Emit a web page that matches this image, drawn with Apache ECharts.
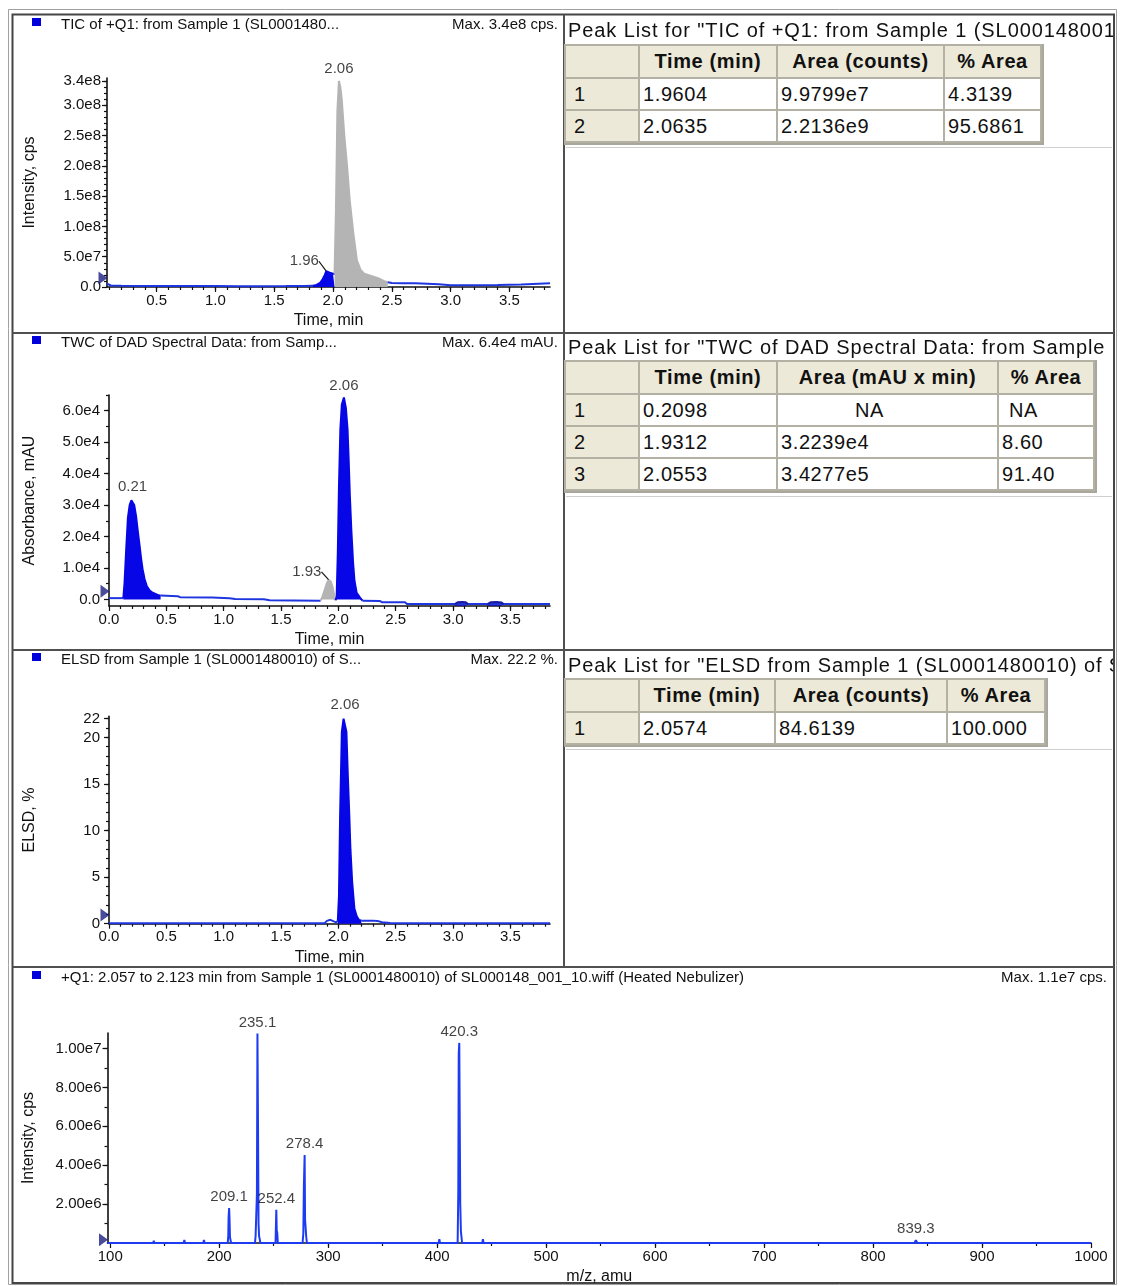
<!DOCTYPE html>
<html>
<head>
<meta charset="utf-8">
<script src="https://cdn.jsdelivr.net/npm/echarts/dist/echarts.min.js"></script>
<style>
  html, body { margin:0; padding:0; background:#fff; }
  #chart { position:absolute; left:0; top:0; width:1121px; height:1286px; }
  .ptitle { position:absolute; left:568px; width:545px; height:24px; line-height:24px; overflow:hidden; white-space:nowrap;
            font-family:'Liberation Sans', Arial, sans-serif; font-size:20px; letter-spacing:0.9px; color:#111; z-index:3; }
  table.pk { position:absolute; left:564px; border-collapse:separate; border-spacing:2px; background:#b3b0a4;
             font-family:'Liberation Sans', Arial, sans-serif; font-size:20px; letter-spacing:0.6px; color:#111; z-index:3;
             border-right:2px solid #a9a69b; border-bottom:2px solid #a9a69b; }
  table.pk th { background:#ece9d8; font-weight:bold; height:31px; padding:0; text-align:center; box-sizing:border-box; }
  table.pk td { background:#fff; height:30px; padding:0 0 0 3px; text-align:left; box-sizing:border-box; white-space:pre; }
  table.pk td.idx { background:#ece9d8; padding-left:8px; }
  .hl { position:absolute; background:#cfcfcf; z-index:2; }
</style>
</head>
<body>
<div id="chart"></div>
<div id="tables"></div>
<script>
// ---------------- DATA ----------------
// Panel 1: TIC of +Q1 (time min, intensity cps)
const ticTraceA  = [[0.078,5.5e6],[0.09,4.5e6],[0.11,2.5e6],[0.2,2.0e6],[0.4,1.8e6],[0.6,1.6e6],[0.8,1.5e6],[1.0,1.5e6],[1.2,1.4e6],[1.4,1.4e6],[1.6,1.5e6],[1.75,1.6e6],[1.83,2.0e6]];
const ticPeak196 = [[1.83,2.0e6],[1.86,3.5e6],[1.89,7e6],[1.91,1.2e7],[1.93,2.0e7],[1.943,2.6e7],[1.96,2.5e7],[1.98,2.3e7],[2.0,2.2e7],[2.013,2.2e7]];
const ticPeak206 = [[2.013,2.2e7],[2.025,1.3e8],[2.037,2.9e8],[2.05,3.4e8],[2.062,3.3e8],[2.074,3.1e8],[2.096,2.5e8],[2.12,1.98e8],[2.142,1.43e8],[2.173,8.8e7],[2.203,4.4e7],[2.235,2.8e7],[2.265,2.2e7],[2.33,1.8e7],[2.388,1.4e7],[2.43,1.0e7],[2.465,8e6]];
const ticTraceB  = [[2.465,8e6],[2.5,6.6e6],[2.6,6.2e6],[2.7,6.0e6],[2.8,5.5e6],[2.9,4.5e6],[3.0,3.0e6],[3.2,3.0e6],[3.4,3.2e6],[3.6,4.0e6],[3.7,5.0e6],[3.845,6.0e6]];
const ticLabels  = [[2.05,3.4e8,'2.06']];
const ticLeaderLabels = [[1.943,2.6e7,'1.96']];
const ticXTicks = [0.5,1.0,1.5,2.0,2.5,3.0,3.5];
const ticXText  = ['0.5','1.0','1.5','2.0','2.5','3.0','3.5'];
const ticYTicks = [0,5e7,1e8,1.5e8,2e8,2.5e8,3e8,3.4e8];
const ticYText  = ['0.0','5.0e7','1.0e8','1.5e8','2.0e8','2.5e8','3.0e8','3.4e8'];

// Panel 2: TWC of DAD (time min, absorbance mAU)
const dadTraceA  = [[0,400],[0.125,400]];
const dadPeak021 = [[0.125,400],[0.135,5000],[0.15,1.6e4],[0.165,2.6e4],[0.18,3.0e4],[0.195,3.15e4],[0.205,3.2e4],[0.22,3.0e4],[0.236,2.65e4],[0.25,2.2e4],[0.267,1.7e4],[0.28,1.3e4],[0.293,9600],[0.31,6500],[0.33,4200],[0.355,2800],[0.38,2100],[0.425,1400],[0.45,1200]];
const dadTraceB  = [[0.45,1200],[0.6,1000],[0.62,700],[0.9,600],[1.05,400],[1.1,150],[1.35,50],[1.4,-300],[1.6,-350],[1.845,-400]];
const dadPeak193 = [[1.845,-400],[1.86,800],[1.88,3000],[1.9,5200],[1.917,6200],[1.935,5600],[1.95,3800],[1.965,1000],[1.976,-300]];
const dadPeak206 = [[1.976,-300],[1.985,1000],[1.995,1.5e4],[2.005,3.6e4],[2.017,5.4e4],[2.03,6.2e4],[2.048,6.42e4],[2.065,6.1e4],[2.08,5.4e4],[2.09,4.4e4],[2.1,3.3e4],[2.113,2.2e4],[2.128,1.17e4],[2.14,6000],[2.159,2100],[2.19,500],[2.21,-400]];
const dadTraceC  = [[2.21,-400],[2.36,-500],[2.38,-900],[2.58,-900],[2.6,-1500],[3.845,-1500]];
const dadBlipA   = [[3.016,-1500],[3.04,-900],[3.08,-800],[3.11,-900],[3.13,-1500]];
const dadBlipB   = [[3.30,-1500],[3.33,-900],[3.38,-850],[3.42,-950],[3.44,-1500]];
const dadLabels  = [[0.205,3.2e4,'0.21'],[2.048,6.42e4,'2.06']];
const dadLeaderLabels = [[1.917,6200,'1.93']];
const dadXTicks = [0,0.5,1.0,1.5,2.0,2.5,3.0,3.5];
const dadXText  = ['0.0','0.5','1.0','1.5','2.0','2.5','3.0','3.5'];
const dadYTicks = [0,1e4,2e4,3e4,4e4,5e4,6e4];
const dadYText  = ['0.0','1.0e4','2.0e4','3.0e4','4.0e4','5.0e4','6.0e4'];

// Panel 3: ELSD (time min, %)
const elsdTraceA  = [[0,0.05],[1.0,0.05],[1.88,0.06],[1.9,0.3],[1.93,0.42],[1.96,0.25],[1.98,0.15],[1.995,0.3]];
const elsdPeak206 = [[1.995,0.3],[2.005,3],[2.015,11.7],[2.03,20.6],[2.045,22.0],[2.058,22.2],[2.07,20.6],[2.082,16],[2.095,11.7],[2.105,8],[2.12,4.5],[2.14,1.6],[2.16,0.8],[2.18,0.4],[2.2,0.32]];
const elsdTraceB  = [[2.2,0.32],[2.3,0.33],[2.34,0.3],[2.38,0.15],[2.45,0.08],[2.5,0.05],[3.845,0.05]];
const elsdLabels  = [[2.058,22.2,'2.06']];
const elsdXTicks = dadXTicks, elsdXText = dadXText;
const elsdYTicks = [0,5,10,15,20,22];
const elsdYText  = ['0','5','10','15','20','22'];

// Panel 4: +Q1 mass spectrum (m/z amu, intensity cps)
const msProfile = [[97.5,0],
  [139.4,0],[140,1.2e5],[140.6,0],
  [167.4,0],[168,1.5e5],[168.6,0],
  [185.4,0],[186,1.5e5],[186.6,0],
  [195.4,0],[196,0.8e5],[196.6,0],
  [207.8,0],[208.3,3e5],[208.6,1.3e6],[209.1,1.8e6],[209.5,1.2e6],[209.9,3e5],[210.4,2.5e5],[210.9,0],
  [232.8,0],[233.4,3.5e5],[234.0,4e5],[234.6,2.5e6],[235.1,1.077e7],[235.6,6.24e6],[236.1,1.0e6],[236.6,3.5e5],[237.2,2e5],[237.8,0],
  [251.7,0],[252.4,1.71e6],[252.8,6.5e5],[253.3,5e5],[253.8,0],
  [276.5,0],[277.2,5e5],[277.7,2.9e6],[278.4,4.53e6],[278.8,1.2e6],[279.3,1.1e6],[279.9,3e5],[280.5,0],
  [291.5,0],[292,1e5],[292.5,0],
  [401.4,0],[402,2e5],[402.6,0],
  [418.8,0],[419.4,2.58e6],[419.8,9.74e6],[420.3,1.029e7],[420.7,6.5e6],[421.2,2.0e6],[421.8,6e5],[422.3,5e5],[422.9,0],
  [436.4,0],[437,1e5],[437.6,0],
  [441.4,0],[442,2e5],[442.6,0],
  [838.0,0],[839.3,1.5e5],[840.6,0],
  [1000,0]];
const msLabels = [[209.1,1.8e6,'209.1'],[235.1,1.077e7,'235.1'],[252.4,1.71e6,'252.4'],[278.4,4.53e6,'278.4'],[420.3,1.029e7,'420.3'],[839.3,1.5e5,'839.3']];
const msXTicks = [100,200,300,400,500,600,700,800,900,1000];
const msXText  = ['100','200','300','400','500','600','700','800','900','1000'];
const msYTicks = [2e6,4e6,6e6,8e6,1e7];
const msYText  = ['2.00e6','4.00e6','6.00e6','8.00e6','1.00e7'];

// Panel titles
const panelTitles = [
  'TIC of +Q1: from Sample 1 (SL0001480...',
  'TWC of DAD Spectral Data: from Samp...',
  'ELSD from Sample 1 (SL0001480010) of S...',
  '+Q1: 2.057 to 2.123 min from Sample 1 (SL0001480010) of SL000148_001_10.wiff (Heated Nebulizer)'
];
const panelMax = ['Max. 3.4e8 cps.','Max. 6.4e4 mAU.','Max. 22.2 %.','Max. 1.1e7 cps.'];

// Peak tables
const tableTitles = [
  'Peak List for "TIC of +Q1: from Sample 1 (SL0001480010) of SL000148_001_10.wiff"',
  'Peak List for "TWC of DAD Spectral Data: from Sample 1 (SL0001480010)"',
  'Peak List for "ELSD from Sample 1 (SL0001480010) of SL000148_001_10.wiff"'
];
const tableHeaders = [
  ['', 'Time (min)', 'Area (counts)', '% Area'],
  ['', 'Time (min)', 'Area (mAU x min)', '% Area'],
  ['', 'Time (min)', 'Area (counts)', '% Area']
];
const tableRows = [
  [['1','1.9604','9.9799e7','4.3139'],['2','2.0635','2.2136e9','95.6861']],
  [['1','0.2098','NA','NA'],['2','1.9312','3.2239e4','8.60'],['3','2.0553','3.4277e5','91.40']],
  [['1','2.0574','84.6139','100.000']]
];

// ---------------- LAYOUT / STYLE ----------------
const FONT = "'Liberation Sans', Arial, sans-serif";
const BLUE_FILL = '#0606e6', BLUE_LINE = '#1e36e0', GREY_FILL = '#b4b4b4', INK = '#111';

const tableLayout = [
  { titleTop: 18, top: 44, widths: [72,136,165,95] },
  { titleTop: 335, top: 360, widths: [72,136,219,94] },
  { titleTop: 653, top: 678, widths: [72,134,170,96] }
];
const naPad = { 2: 77, 3: 10 };

function buildTables() {
  const host = document.getElementById('tables');
  tableLayout.forEach((L, k) => {
    const t = document.createElement('div');
    t.className = 'ptitle'; t.style.top = L.titleTop + 'px'; t.textContent = tableTitles[k];
    host.appendChild(t);
    const tb = document.createElement('table');
    tb.className = 'pk'; tb.style.top = L.top + 'px';
    let h = '<tr>' + tableHeaders[k].map((s, i) => `<th style="width:${L.widths[i]}px;min-width:${L.widths[i]}px">${s}</th>`).join('') + '</tr>';
    tableRows[k].forEach(r => {
      h += '<tr>' + r.map((s, i) => {
        if (i === 0) return `<td class="idx">${s}</td>`;
        const pad = (s === 'NA' && naPad[i] != null) ? `style="padding-left:${naPad[i]}px"` : '';
        return `<td ${pad}>${s}</td>`;
      }).join('') + '</tr>';
    });
    tb.innerHTML = h;
    host.appendChild(tb);
  });
  [[147],[496],[749]].forEach(([y]) => {
    const d = document.createElement('div'); d.className = 'hl';
    d.style.left = '566px'; d.style.top = y + 'px'; d.style.width = '546px'; d.style.height = '1px';
    host.appendChild(d);
  });
}
buildTables();

const grids = [
  { left: 107, top: 78, width: 443, height: 209 },
  { left: 109, top: 395, width: 441, height: 211 },
  { left: 109, top: 716.4, width: 441, height: 207.3 },
  { left: 107.5, top: 1033, width: 983.5, height: 210.3 }
];
const xRanges = [[0.078,3.845],[0,3.845],[0,3.845],[97.5,1000]];
const yRanges = [[0,3.45e8],[-2100,6.5e4],[0,22.25],[0,1.08e7]];

function seq(a, b, step) { const out = []; for (let i = 0; a + i*step <= b + step*1e-6; i++) out.push(+(a + i*step).toPrecision(10)); return out; }
const xMinor = [seq(0.1,3.8,0.1), seq(0.1,3.8,0.1), seq(0.1,3.8,0.1), seq(150,950,50)];
const yMinor = [seq(1e7,3.4e8,1e7), seq(5e3,6.5e4,5e3), seq(1,22,1), seq(1e6,1.0e7,1e6)];
const xTicks = [ticXTicks, dadXTicks, elsdXTicks, msXTicks];
const xTexts = [ticXText, dadXText, elsdXText, msXText];
const yTicks = [ticYTicks, dadYTicks, elsdYTicks, msYTicks];
const yTexts = [ticYText, dadYText, elsdYText, msYText];
const xNames = ['Time, min','Time, min','Time, min','m/z, amu'];
const yNames = ['Intensity, cps','Absorbance, mAU','ELSD, %','Intensity, cps'];
const yLabelMargin = [6, 9, 9, 6];

function fmtFrom(vals, texts) {
  return v => { for (let i = 0; i < vals.length; i++) if (Math.abs(vals[i] - v) <= 1e-9 * Math.max(1, Math.abs(vals[i]))) return texts[i]; return ''; };
}
const axisLineStyle = { color: INK, width: 1.6 };
const tickStyle = { color: INK, width: 1.2 };

const xAxes = [], yAxes = [];
for (let g = 0; g < 4; g++) {
  xAxes.push({
    type: 'value', gridIndex: g, min: xRanges[g][0], max: xRanges[g][1], position: 'bottom',
    axisLine: { show: true, onZero: false, lineStyle: axisLineStyle },
    axisTick: { show: true, customValues: xTicks[g], length: 5, lineStyle: tickStyle },
    axisLabel: { customValues: xTicks[g], formatter: fmtFrom(xTicks[g], xTexts[g]), fontFamily: FONT, fontSize: 15, color: INK, margin: 6 },
    splitLine: { show: false },
    name: xNames[g], nameLocation: 'middle', nameGap: 26,
    nameTextStyle: { fontFamily: FONT, fontSize: 16, color: INK }
  });
  xAxes.push({
    type: 'value', gridIndex: g, min: xRanges[g][0], max: xRanges[g][1], position: 'bottom',
    axisLine: { show: false, onZero: false },
    axisTick: { show: true, customValues: xMinor[g], length: 3, lineStyle: tickStyle },
    axisLabel: { show: false }, splitLine: { show: false }
  });
  yAxes.push({
    type: 'value', gridIndex: g, min: yRanges[g][0], max: yRanges[g][1], position: 'left',
    axisLine: { show: true, onZero: false, lineStyle: axisLineStyle },
    axisTick: { show: true, customValues: yTicks[g], length: 5, lineStyle: tickStyle },
    axisLabel: { customValues: yTicks[g], formatter: fmtFrom(yTicks[g], yTexts[g]), fontFamily: FONT, fontSize: 15, color: INK, margin: yLabelMargin[g] },
    splitLine: { show: false },
    name: yNames[g], nameLocation: 'middle', nameRotate: 90, nameGap: g === 0 ? 69 : 71,
    nameTextStyle: { fontFamily: FONT, fontSize: 16, color: INK }
  });
  yAxes.push({
    type: 'value', gridIndex: g, min: yRanges[g][0], max: yRanges[g][1], position: 'left',
    axisLine: { show: false, onZero: false },
    axisTick: { show: true, customValues: yMinor[g], length: 3, lineStyle: tickStyle },
    axisLabel: { show: false }, splitLine: { show: false }
  });
}

function line(g, data, color, fill, origin, width) {
  return {
    type: 'line', xAxisIndex: 2*g, yAxisIndex: 2*g, data: data, symbol: 'none', showSymbol: false,
    lineStyle: { color: color, width: width || 2 }, smooth: false, silent: true, z: 3,
    areaStyle: fill ? { color: fill, opacity: 1, origin: origin || 'auto' } : undefined
  };
}
function labels(g, pts, dist) {
  return {
    type: 'scatter', xAxisIndex: 2*g, yAxisIndex: 2*g, symbolSize: 1, silent: true, z: 6, clip: false,
    itemStyle: { color: 'rgba(0,0,0,0)' },
    data: pts.map(p => ({ value: [p[0], p[1]], name: p[2] })),
    label: { show: true, position: 'top', distance: dist, formatter: p => p.name, fontFamily: FONT, fontSize: 15, color: INK }
  };
}
function leaderLabels(g, pts, dx, dy) {
  return {
    type: 'scatter', xAxisIndex: 2*g, yAxisIndex: 2*g, symbolSize: 1, silent: true, z: 6, clip: false,
    itemStyle: { color: 'rgba(0,0,0,0)' },
    data: pts.map(p => ({ value: [p[0], p[1]], name: p[2] })),
    label: { show: true, position: 'inside', formatter: p => p.name, fontFamily: FONT, fontSize: 15, color: INK },
    labelLayout: { dx: dx, dy: dy },
    labelLine: { show: true, lineStyle: { color: INK, width: 1.2 } }
  };
}
function baseMarker(g, yVal) {
  return {
    type: 'scatter', xAxisIndex: 2*g, yAxisIndex: 2*g, silent: true, z: 7, clip: false,
    symbol: 'triangle', symbolSize: [13, 9], symbolRotate: -90, symbolOffset: [-4, 0],
    itemStyle: { color: '#1b2080' },
    data: [[xRanges[g][0], yVal]]
  };
}
const markerLevels = [1.5e7, 2600, 0.93, 1.7e5];

const series = [
  line(0, ticTraceA, BLUE_LINE),
  line(0, ticPeak196, BLUE_FILL, BLUE_FILL),
  line(0, ticPeak206, GREY_FILL, GREY_FILL),
  line(0, ticTraceB, BLUE_LINE),
  labels(0, ticLabels, 4),
  leaderLabels(0, ticLeaderLabels, -22, -10),

  line(1, dadTraceA, BLUE_LINE),
  line(1, dadPeak021, BLUE_FILL, BLUE_FILL),
  line(1, dadTraceB, BLUE_LINE),
  line(1, dadPeak193, GREY_FILL, GREY_FILL),
  line(1, dadPeak206, BLUE_FILL, BLUE_FILL),
  line(1, dadTraceC, BLUE_LINE),
  line(1, dadBlipA, '#1a1aa0', '#1a1aa0', 'start'),
  line(1, dadBlipB, '#1a1aa0', '#1a1aa0', 'start'),
  labels(1, dadLabels, 4),
  leaderLabels(1, dadLeaderLabels, -22, -8),

  line(2, elsdTraceA, BLUE_LINE),
  line(2, elsdPeak206, BLUE_FILL, BLUE_FILL),
  line(2, elsdTraceB, BLUE_LINE),
  labels(2, elsdLabels, 4),

  line(3, msProfile, '#1d3cf2', null, null, 2),
  labels(3, msLabels, 3)
];
for (let g = 0; g < 4; g++) series.push(baseMarker(g, markerLevels[g]));

const titleY = [25, 343, 660, 978];
const maxRight = [558, 558, 558, 1107];
const gfx = [
  { type: 'rect', shape: { x: 8.5, y: 9.5, width: 1108, height: 1275 }, style: { fill: 'none', stroke: '#a0a0a0', lineWidth: 1 }, silent: true },
  { type: 'rect', shape: { x: 12.5, y: 14.5, width: 1101.5, height: 1268.5 }, style: { fill: 'none', stroke: '#454545', lineWidth: 2 }, silent: true },
  { type: 'line', shape: { x1: 12.5, y1: 333, x2: 1114, y2: 333 }, style: { stroke: '#505050', lineWidth: 2 }, silent: true },
  { type: 'line', shape: { x1: 12.5, y1: 650, x2: 1114, y2: 650 }, style: { stroke: '#505050', lineWidth: 2 }, silent: true },
  { type: 'line', shape: { x1: 12.5, y1: 967, x2: 1114, y2: 967 }, style: { stroke: '#505050', lineWidth: 2 }, silent: true },
  { type: 'line', shape: { x1: 564, y1: 14.5, x2: 564, y2: 967 }, style: { stroke: '#505050', lineWidth: 2 }, silent: true }
];
for (let g = 0; g < 4; g++) {
  gfx.push({ type: 'rect', shape: { x: 32, y: titleY[g] - 7, width: 9, height: 8 }, style: { fill: '#0000dd' }, silent: true });
  gfx.push({ type: 'text', x: 61, y: titleY[g], style: { text: panelTitles[g], font: '15px ' + FONT, fill: INK, textAlign: 'left', textVerticalAlign: 'middle' }, silent: true });
  gfx.push({ type: 'text', x: maxRight[g], y: titleY[g], style: { text: panelMax[g], font: '15px ' + FONT, fill: INK, textAlign: 'right', textVerticalAlign: 'middle' }, silent: true });
}

const chart = echarts.init(document.getElementById('chart'), null, { renderer: 'canvas' });
chart.setOption({
  animation: false,
  backgroundColor: '#fff',
  textStyle: { fontFamily: FONT },
  grid: grids,
  xAxis: xAxes,
  yAxis: yAxes,
  series: series,
  graphic: { elements: gfx }
});
</script>
</body>
</html>
